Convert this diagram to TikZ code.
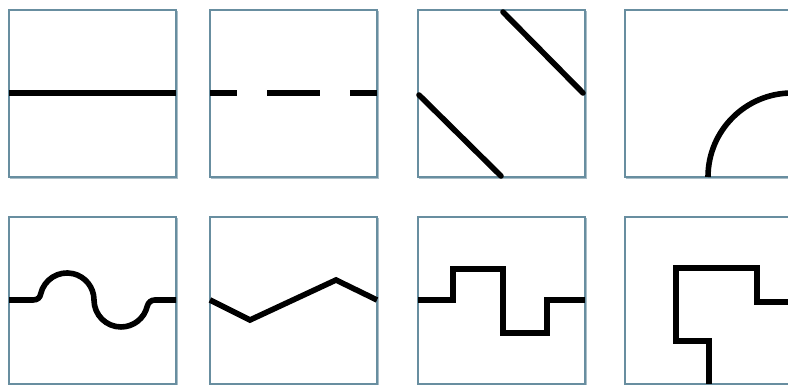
\documentclass[tikz,border=0pt]{standalone}
\begin{document}
\begin{tikzpicture}[x=1pt,y=1pt,
  tile/.style={draw={rgb,255:red,104;green,142;blue,160},line width=1.7pt,fill=white},
  tileshadow/.style={draw={rgb,255:red,170;green,190;blue,200},line width=1.2pt},
  stroke/.style={line width=5.6pt,black,line join=miter},
  roundstroke/.style={stroke,line cap=round}]
\useasboundingbox (0,0) rectangle (788,385);
\clip (0,0) rectangle (788,385);
% tiles
\foreach \x in {9,210,418,625}{
  \foreach \y in {208,1}{
    \draw[tileshadow] (\x+1.5,\y-1.5) rectangle (\x+168.5,\y+165.5);
    \draw[tile] (\x,\y) rectangle (\x+167,\y+167);
  }
}
% row 1
\draw[stroke] (9,292) -- (176,292);
\draw[stroke,dash pattern=on 53pt off 30pt,dash phase=26pt] (210,292) -- (377,292);
\draw[roundstroke] (419,290) -- (501,209);
\draw[roundstroke] (503,373) -- (583,292);
\draw[stroke] (708,208) arc[start angle=180,end angle=90,radius=84];
% row 2
\draw[stroke] (9,85) -- (33,85) .. controls (37.5,85) and (40.2,87.5) .. (40.7,91.1)
  arc[start angle=167,end angle=0,radius=27]
  arc[start angle=180,end angle=347,radius=27]
  .. controls (148.3,82.5) and (151,85) .. (155,85) -- (176,85);
\draw[stroke] (210,85) -- (250,65) -- (336,105) -- (377,85);
\draw[stroke] (418,85) -- (453,85) -- (453,116) -- (503,116) -- (503,52)
  -- (547,52) -- (547,85) -- (585,85);
\draw[stroke] (792,83) -- (757,83) -- (757,117) -- (676,117) -- (676,44)
  -- (709,44) -- (709,1);
\end{tikzpicture}
\end{document}
